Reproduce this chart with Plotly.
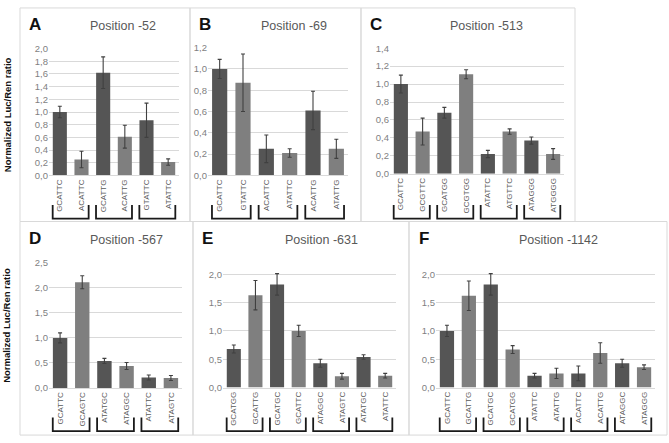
import plotly.graph_objects as go

# panel A - Position -52
labels_a = ["GCATTC", "ACATTC", "GCATTG", "ACATTG", "GTATTC", "ATATTC"]
values_a = [1.0, 0.25, 1.62, 0.61, 0.87, 0.21]
errors_a = [0.09, 0.13, 0.25, 0.18, 0.27, 0.05]

# panel B - Position -69
labels_b = ["GCATTC", "GTATTC", "ACATTC", "ATATTC", "ACATTG", "ATATTG"]
values_b = [1.0, 0.87, 0.25, 0.21, 0.61, 0.25]
errors_b = [0.09, 0.27, 0.13, 0.04, 0.18, 0.09]

# panel C - Position -513
labels_c = ["GCATTC", "GCGTTC", "GCATGG", "GCGTGG", "ATATTC", "ATGTTC", "ATAGGG", "ATGGGG"]
values_c = [1.0, 0.47, 0.68, 1.11, 0.22, 0.47, 0.37, 0.22]
errors_c = [0.1, 0.15, 0.06, 0.05, 0.04, 0.03, 0.04, 0.06]

# panel D - Position -567
labels_d = ["GCATTC", "GCAGTC", "ATATGC", "ATAGGC", "ATATTC", "ATAGTC"]
values_d = [1.0, 2.11, 0.54, 0.44, 0.21, 0.2]
errors_d = [0.1, 0.13, 0.05, 0.07, 0.05, 0.05]

# panel E - Position -631
labels_e = ["GCATGG", "GCATTG", "GCATGC", "GCATTC", "ATAGGC", "ATAGTC", "ATATGC", "ATATTC"]
values_e = [0.68, 1.63, 1.82, 1.0, 0.43, 0.2, 0.54, 0.21]
errors_e = [0.07, 0.26, 0.19, 0.1, 0.07, 0.05, 0.04, 0.04]

# panel F - Position -1142
labels_f = ["GCATTC", "GCATTG", "GCATGC", "GCATGG", "ATATTC", "ATATTG",
            "ACATTC", "ACATTG", "ATAGGC", "ATAGGG"]
values_f = [1.0, 1.62, 1.82, 0.67, 0.21, 0.25, 0.25, 0.61, 0.43, 0.36]
errors_f = [0.1, 0.26, 0.19, 0.07, 0.04, 0.09, 0.13, 0.18, 0.07, 0.04]

W, H = 669, 443
DARK, LIGHT = "#555555", "#7f7f7f"

def px_x(x):
    return x / W

def px_y(y):
    return 1 - y / H

# letter, title, labels, values, errors, y max, dtick, plot box (px), panel border (px)
panels = [
    ("A", "Position -52", labels_a, values_a, errors_a, 2.0, 0.2, (49, 179, 43.7, 173.7), (20, 190, 2, 221)),
    ("B", "Position -69", labels_b, values_b, errors_b, 1.2, 0.2, (208, 348, 42.7, 173.7), (190, 361, 2, 221)),
    ("C", "Position -513", labels_c, values_c, errors_c, 1.4, 0.2, (390, 564, 43.3, 172), (361, 575, 2, 221)),
    ("D", "Position -567", labels_d, values_d, errors_d, 2.5, 0.5, (49, 182, 263.3, 391.7), (20, 193, 221, 440)),
    ("E", "Position -631", labels_e, values_e, errors_e, 2.1, 0.5, (223, 396, 269.2, 391.3), (193, 409, 221, 440)),
    ("F", "Position -1142", labels_f, values_f, errors_f, 2.1, 0.5, (436, 655, 269.2, 391.3), (409, 667, 221, 440)),
]

fig = go.Figure()
shapes = []
annotations = []
layout = {}

for k, (letter, title, labels, vals, errs, ymax, dtick, box, border) in enumerate(panels):
    n = k + 1
    xa = "x" if n == 1 else f"x{n}"
    ya = "y" if n == 1 else f"y{n}"
    colors = [DARK if i % 2 == 0 else LIGHT for i in range(len(labels))]
    fig.add_trace(go.Bar(
        x=labels, y=vals, xaxis=xa, yaxis=ya, width=0.65,
        marker=dict(color=colors, line=dict(width=0)),
        error_y=dict(type="data", array=errs, color="#404040", thickness=1.1, width=2),
        showlegend=False,
    ))
    x0, x1, ytop, ybot = box
    layout["xaxis" if n == 1 else f"xaxis{n}"] = dict(
        domain=[px_x(x0), px_x(x1)], anchor=ya, type="category",
        tickangle=-90, showgrid=False, showline=True, linecolor="#d9d9d9",
        ticks="", tickfont=dict(size=8, color="#595959", family="Liberation Sans Narrow, Liberation Sans"),
        fixedrange=True,
    )
    layout["yaxis" if n == 1 else f"yaxis{n}"] = dict(
        domain=[px_y(ybot), px_y(ytop)], anchor=xa, range=[0, ymax],
        dtick=dtick, tick0=0, tickformat=".1f", showgrid=True, gridcolor="#d9d9d9",
        gridwidth=1, zeroline=False, showline=False, ticks="",
        tickfont=dict(size=9.5, color="#7f7f7f", family="Liberation Sans"),
        fixedrange=True,
    )
    # panel border
    bx0, bx1, by0, by1 = border
    shapes.append(dict(type="rect", xref="paper", yref="paper",
                       x0=px_x(bx0), x1=px_x(bx1), y0=px_y(by1), y1=px_y(by0),
                       line=dict(color="#d9d9d9", width=1), layer="below"))
    # brackets under each pair of labels
    nb = len(labels)
    btop, bbot = (204, 218) if by0 < 100 else (422, 436)
    for i in range(0, nb, 2):
        left = (i + 0.5 - 0.33) / nb
        right = (i + 1.5 + 0.33) / nb
        path = (f"M {left},{px_y(btop)} L {left},{px_y(bbot)} "
                f"L {right},{px_y(bbot)} L {right},{px_y(btop)}")
        shapes.append(dict(type="path", xref=f"{xa} domain", yref="paper", path=path,
                           line=dict(color="#1a1a1a", width=1.8)))
    # letter and title
    title_x = (bx0 + bx1) / 2 + 18 if letter in "ABC" else (bx0 + bx1) / 2 + 20
    annotations.append(dict(text=f"<b>{letter}</b>", x=px_x(bx0 + 15), y=px_y(by0 + 17),
                            xref="paper", yref="paper", xanchor="center", yanchor="middle",
                            showarrow=False, font=dict(size=17, color="#111111", family="Liberation Sans")))
    annotations.append(dict(text=title, x=px_x(title_x), y=px_y(by0 + 19),
                            xref="paper", yref="paper", xanchor="center", yanchor="middle",
                            showarrow=False, font=dict(size=12.5, color="#595959", family="Liberation Sans")))

# shared y axis titles
for yc in (112, 328):
    annotations.append(dict(text="<b>Normalized Luc/Ren ratio</b>", x=px_x(7), y=px_y(yc),
                            xref="paper", yref="paper", xanchor="center", yanchor="middle",
                            textangle=-90, showarrow=False,
                            font=dict(size=9.5, color="#111111", family="Liberation Sans")))

fig.update_layout(
    width=W, height=H, margin=dict(l=0, r=0, t=0, b=0),
    paper_bgcolor="white", plot_bgcolor="white",
    separators=", ", shapes=shapes, annotations=annotations,
    **layout,
)

# the page body has a default margin; drop it so the figure sits at the window corner
fig.write_html("out.html", config={"displayModeBar": False},
               post_script="document.body.style.margin = '0';")
